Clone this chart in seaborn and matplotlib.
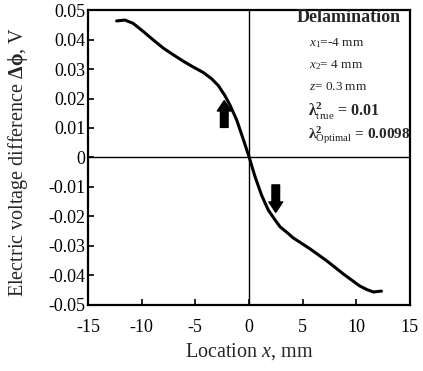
import numpy as np
import pandas as pd
import matplotlib
matplotlib.use('Agg')
import matplotlib.pyplot as plt
import seaborn as sns

# curve
loc_x = [-12.33, -11.56, -10.8, -9.84, -8.9, -7.95, -7.0, -6.1, -5.2, -4.25, -3.48,
         -2.86, -2.24, -1.77, -1.15, -0.53, 0.03, 0.56, 1.18, 1.8, 2.4, 2.9, 3.67, 4.1,
         5.7, 7.24, 8.8, 10.3, 11.0, 11.6, 12.35]
dphi = [0.0463, 0.0466, 0.0455, 0.0427, 0.0398, 0.037, 0.0347, 0.0326, 0.0307, 0.0288, 0.0267,
        0.0244, 0.021, 0.0178, 0.0128, 0.0062, 0.0, -0.0064, -0.0128, -0.0178, -0.021, -0.0235,
        -0.0258, -0.0272, -0.031, -0.035, -0.0395, -0.0435, -0.0448, -0.0456, -0.0453]

x_ticks = [-15, -10, -5, 0, 5, 10, 15]
x_labels = ['-15', '-10', '-5', '0', '5', '10', '15']
y_ticks = [-0.05, -0.04, -0.03, -0.02, -0.01, 0, 0.01, 0.02, 0.03, 0.04, 0.05]
y_labels = ['-0.05', '-0.04', '-0.03', '-0.02', '-0.01', '0', '0.01', '0.02', '0.03', '0.04', '0.05']

# arrows: (tail, head)
arrows = [((-2.3, 0.0102), (-2.3, 0.0193)), ((2.5, -0.0093), (2.5, -0.0186))]

df = pd.DataFrame({'x': loc_x, 'dphi': dphi})

sns.set_style('ticks')
plt.rcParams['font.family'] = ['Liberation Serif', 'DejaVu Serif']
plt.rcParams['mathtext.fontset'] = 'custom'
plt.rcParams['mathtext.rm'] = 'Liberation Serif'
plt.rcParams['mathtext.it'] = 'Liberation Serif:italic'
plt.rcParams['mathtext.bf'] = 'Liberation Serif:bold'

fig = plt.figure(figsize=(4.23, 3.71), dpi=100)
ax = fig.add_axes([0.208, 0.178, 0.761, 0.795])

ax.axhline(0, color='black', lw=1.0, zorder=1)
ax.axvline(0, color='black', lw=1.0, zorder=1)
sns.lineplot(data=df, x='x', y='dphi', ax=ax, color='black', lw=2.2,
             sort=False, estimator=None)
ax.lines[-1].set_solid_capstyle('round')
ax.lines[-1].set_solid_joinstyle('round')

for tail, head in arrows:
    ax.annotate('', xy=head, xytext=tail,
                arrowprops=dict(arrowstyle='simple,head_width=1.0,head_length=0.75,tail_width=0.55',
                                color='black', mutation_scale=10, shrinkA=0, shrinkB=0))

ax.set_xlim(-15, 15)
ax.set_ylim(-0.05, 0.05)
ax.set_xticks(x_ticks)
ax.set_xticklabels(x_labels)
ax.set_yticks(y_ticks)
ax.set_yticklabels(y_labels)
ax.tick_params(direction='in', length=4, width=1.2, labelsize=13, colors='black')
ax.tick_params(axis='x', pad=10)
ax.tick_params(axis='y', pad=2)
for s in ax.spines.values():
    s.set_linewidth(1.6)
    s.set_color('black')

ax.set_xlabel(r'Location $\mathit{x}$, mm', fontsize=14.5, labelpad=4)
ax.set_ylabel(r'Electric voltage difference $\mathbf{\Delta\phi}$, V', fontsize=14.5)
ax.yaxis.set_label_coords(-0.18, 0.485)

ax.text(4.4, 0.0473, 'Delamination', fontsize=13, fontweight='bold', va='center')
ax.text(5.6, 0.0387, r'$\mathit{x}_{\mathit{1}}$=-4 mm', fontsize=9.5, va='center')
ax.text(5.6, 0.0312, r'$\mathit{x}_{\mathit{2}}$= 4 mm', fontsize=9.5, va='center')
ax.text(5.6, 0.0240, r'$\mathit{z}$= 0.3 mm', fontsize=9.5, va='center')
ax.text(5.5, 0.0158, r'$\mathbf{\lambda}^{\mathbf{2}}_{\mathrm{true}}$ = 0.01', fontsize=11.5,
        fontweight='bold', va='center')
ax.text(5.5, 0.0075, r'$\mathbf{\lambda}^{\mathbf{2}}_{\mathrm{Optimal}}$ = 0.0098', fontsize=11,
        fontweight='bold', va='center')

fig.savefig('out.png', dpi=100)
